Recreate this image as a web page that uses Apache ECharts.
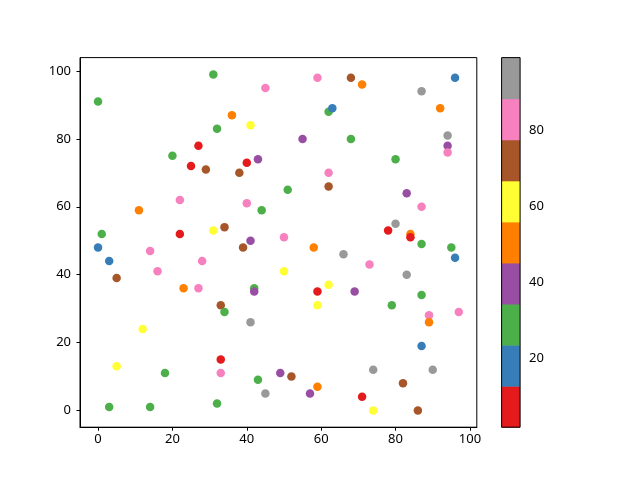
<!DOCTYPE html>
<html>
<head>
<meta charset="utf-8">
<script src="https://cdn.jsdelivr.net/npm/echarts@6/dist/echarts.min.js"></script>
<style>html,body{margin:0;padding:0;background:#fff}#c{width:640px;height:480px}</style>
</head>
<body>
<div id="c"></div>
<script>
// Point data
const xs = [31,0,32,27,20,25,29,59,45,36,41,62,63,55,43,40,38,62,68,71,96,87,92,68,94,94,94,80,22,11,1,22,31,0,14,3,28,16,5,23,27,51,62,40,44,34,41,39,50,58,66,50,62,59,42,42,33,59,83,87,80,78,84,84,87,95,96,73,83,69,87,79,12,5,18,3,14,32,34,41,33,33,43,49,52,45,59,57,89,97,89,87,74,90,82,71,74,86];
const ys = [99,91,83,78,75,72,71,98,95,87,84,88,89,80,74,73,70,70,98,96,98,94,89,80,81,78,76,74,62,59,52,52,53,48,47,44,44,41,39,36,36,65,66,61,59,54,50,48,51,48,46,41,37,35,36,35,31,31,64,60,55,53,52,51,49,48,45,43,40,35,34,31,24,13,11,1,1,2,29,26,15,11,9,11,10,5,7,5,28,29,26,19,12,12,8,4,0,0];
// colour value (estimated from the colour band of each point)
const cs = [29,29,29,7,29,7,72,83,83,50,61,29,18,40,40,7,72,83,72,50,18,94,50,29,94,40,83,29,83,50,29,7,61,18,83,18,83,83,72,50,83,29,72,83,29,72,40,72,83,50,94,61,61,7,29,40,72,61,40,83,94,7,50,7,29,29,18,83,94,40,29,29,61,61,29,29,29,29,29,94,7,83,29,40,72,94,50,40,83,83,50,18,94,94,72,7,61,72];

const cMin = 2, cMax = 99;
const set1 = ['#e41a1c','#377eb8','#4daf4a','#984ea3','#ff7f00','#ffff33','#a65628','#f781bf','#999999'];
const xTicks = [0,20,40,60,80,100];
const yTicks = [0,20,40,60,80,100];
const cTicks = [20,40,60,80];

const nB = set1.length;
const step = (cMax - cMin) / nB;
const bands = set1.map((c, i) => [i, cMin + i * step, cMin + (i + 1) * step]);
const pieces = bands.map(b => ({gte: b[1], lt: b[0] === nB - 1 ? cMax + 1 : b[2], color: set1[b[0]]}));

const data = xs.map((x, i) => [x, ys[i], cs[i]]);

const font = 'Noto Sans';
const chart = echarts.init(document.getElementById('c'), null, {renderer: 'canvas'});
const axLab = {color: '#000', fontFamily: font, fontSize: 13};
chart.setOption({
  animation: false,
  backgroundColor: '#fff',
  grid: [
    {left: 80, top: 57.6, width: 396.8, height: 369.6, show: true, borderColor: '#000', borderWidth: 1, backgroundColor: 'transparent'},
    {left: 501.6, top: 57.6, width: 18.5, height: 369.6, show: false}
  ],
  xAxis: [
    {gridIndex: 0, type: 'value', min: -4.85, max: 101.85,
     axisLine: {show: true, onZero: false, lineStyle: {color: '#000', width: 1}},
     axisTick: {show: true, length: 3.5, inside: false, customValues: xTicks, lineStyle: {color: '#000'}},
     axisLabel: Object.assign({customValues: xTicks, margin: 6}, axLab),
     splitLine: {show: false}},
    {gridIndex: 1, type: 'value', min: 0, max: 1, show: false}
  ],
  yAxis: [
    {gridIndex: 0, type: 'value', min: -4.95, max: 103.95,
     axisLine: {show: true, onZero: false, lineStyle: {color: '#000', width: 1}},
     axisTick: {show: true, length: 3.5, inside: false, customValues: yTicks, lineStyle: {color: '#000'}},
     axisLabel: Object.assign({customValues: yTicks, margin: 9}, axLab),
     splitLine: {show: false}},
    {gridIndex: 1, type: 'value', min: cMin, max: cMax, position: 'right',
     axisLine: {show: false},
     axisTick: {show: true, length: 3.5, inside: false, customValues: cTicks, lineStyle: {color: '#000'}},
     axisLabel: Object.assign({customValues: cTicks, margin: 9}, axLab),
     splitLine: {show: false}}
  ],
  visualMap: {type: 'piecewise', show: false, seriesIndex: 0, dimension: 2, pieces: pieces},
  series: [
    {type: 'scatter', xAxisIndex: 0, yAxisIndex: 0, data: data, symbolSize: 8.5, itemStyle: {opacity: 1}},
    {type: 'custom', xAxisIndex: 1, yAxisIndex: 1, data: bands, silent: true,
     renderItem: function (params, api) {
       const p0 = api.coord([0, api.value(1)]);
       const p1 = api.coord([1, api.value(2)]);
       return {type: 'rect', shape: {x: p0[0], y: p1[1], width: p1[0] - p0[0], height: p0[1] - p1[1] + 0.5},
               style: {fill: set1[api.value(0)], stroke: null}};
     }},
    {type: 'custom', xAxisIndex: 1, yAxisIndex: 1, data: [[cMin, cMax]], silent: true, z: 5,
     renderItem: function (params, api) {
       const p0 = api.coord([0, api.value(0)]);
       const p1 = api.coord([1, api.value(1)]);
       return {type: 'rect', shape: {x: p0[0], y: p1[1], width: p1[0] - p0[0], height: p0[1] - p1[1]},
               style: {fill: null, stroke: '#000', lineWidth: 1}};
     }}
  ]
});
</script>
</body>
</html>
